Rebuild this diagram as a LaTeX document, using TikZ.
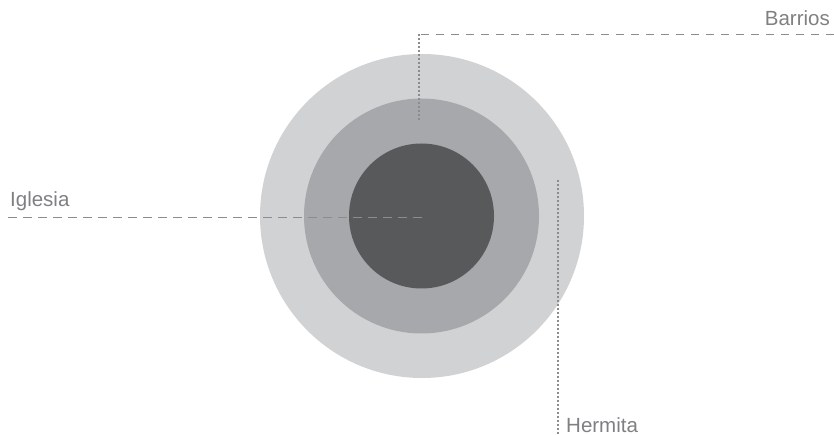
\documentclass[tikz,border=0pt]{standalone}
\usepackage{fontspec}
\setmainfont{Liberation Sans}
\begin{document}
\begin{tikzpicture}[x=1pt,y=-1pt,
  ring/.style={circle,draw=none,inner sep=0pt},
  lbl/.style={text=labelgray,font=\fontsize{20.5}{23}\selectfont,inner sep=0pt},
  dashline/.style={draw=linegray,line width=0.9pt,dash pattern=on 8.5pt off 6.5pt},
  dotline/.style={draw=linegray,line width=1.6pt,dash pattern=on 2.2pt off 1.8pt}]
\definecolor{outergray}{HTML}{D1D2D4}
\definecolor{midgray}{HTML}{A7A8AB}
\definecolor{innergray}{HTML}{58595B}
\definecolor{linegray}{HTML}{8C8C8E}
\definecolor{labelgray}{HTML}{808083}
\useasboundingbox (0,0) rectangle (834,435);
% circles
\node[ring,fill=outergray,minimum size=324pt] (outer) at (422,216) {};
\node[ring,fill=midgray,minimum size=235pt] (middle) at (421.5,216) {};
\node[ring,fill=innergray,minimum size=145pt] (inner) at (421.5,216) {};
% labels
\node[lbl,anchor=base west] (iglesia) at (10,207) {Iglesia};
\node[lbl,anchor=base east] (barrios) at (830,26) {Barrios};
\node[lbl,anchor=base west] (hermita) at (566,432) {Hermita};
% connector points
\coordinate (igA) at (8,217);
\coordinate (igB) at (423,217);
\coordinate (baA) at (834,34);
\coordinate (baC) at (419,34);
\coordinate (baB) at (419,122);
\coordinate (heA) at (558,180);
\coordinate (heB) at (558,435);
% connectors
\draw[dashline] (igA) -- (igB);
\draw[dashline] (baA) -- (baC);
\draw[dotline] (baC) -- (baB);
\draw[dotline] (heA) -- (heB);
\end{tikzpicture}
\end{document}
